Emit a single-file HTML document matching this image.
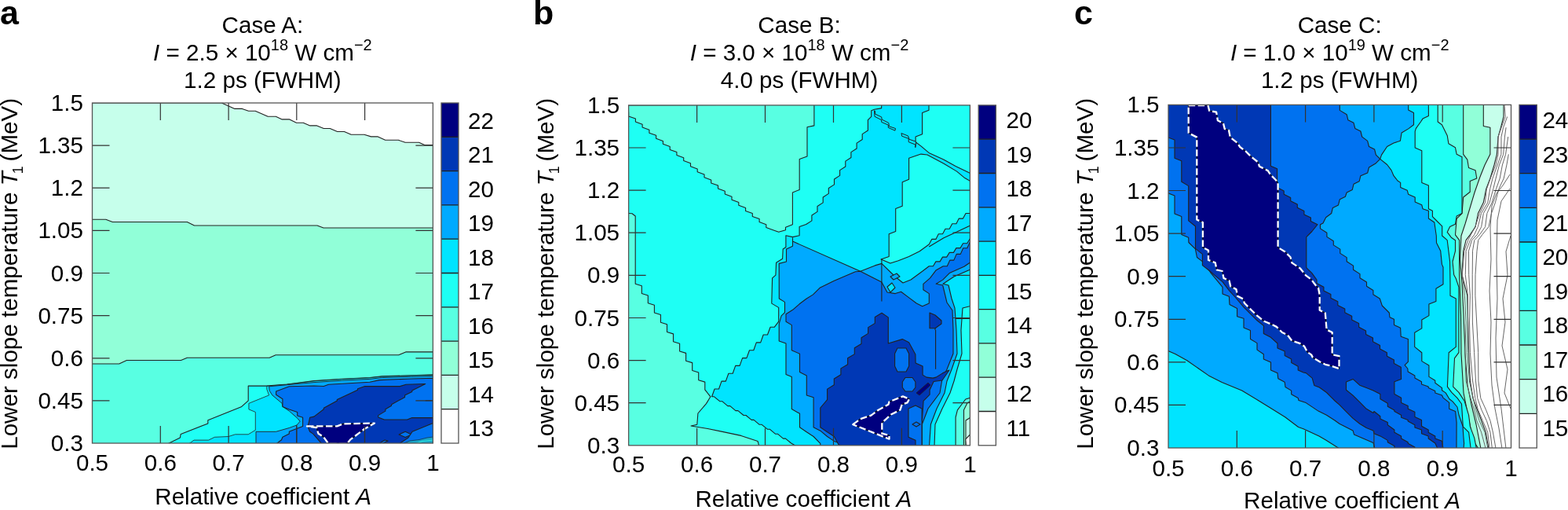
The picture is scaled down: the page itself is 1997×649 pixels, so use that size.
<!DOCTYPE html><html><head><meta charset="utf-8"><style>html,body{margin:0;padding:0;background:#fff;}svg{display:block;}text{font-family:'Liberation Sans', Arial, Helvetica, sans-serif;fill:#000;}</style></head><body>
<svg width="1997" height="649" viewBox="0 0 1997 649">
<text x="0" y="31" style="font-weight:bold;font-size:43px">a</text>
<text x="334.4" y="42.4" text-anchor="middle" style="font-size:29.6px">Case A:</text>
<text x="334.4" y="77.3" text-anchor="middle" style="font-size:29.6px"><tspan style="font-style:italic">I</tspan> = 2.5 × 10<tspan dy="-13" style="font-size:20px">18</tspan><tspan dy="13"> W cm</tspan><tspan dy="-13" style="font-size:20px">−2</tspan></text>
<text x="334.4" y="112.4" text-anchor="middle" style="font-size:29.6px">1.2 ps (FWHM)</text>
<clipPath id="clipA"><rect x="117.5" y="131" width="433.9" height="433"/></clipPath>
<g clip-path="url(#clipA)">
<rect x="117.5" y="131" width="434" height="433" fill="#fff"/>
<polygon points="117.5,131.0 282.3,131.0 299.0,138.4 308.5,138.4 316.5,141.3 325.2,141.3 341.2,148.2 351.3,148.2 359.3,151.9 368.8,151.9 377.5,156.2 386.2,156.2 394.9,159.9 403.6,159.9 412.3,163.5 420.3,163.5 429.7,167.5 438.5,167.5 447.2,171.2 463.9,171.2 472.6,173.9 481.3,173.9 490.7,178.3 507.4,178.3 516.1,181.3 533.6,181.3 540.8,184.5 552.0,184.5 552.0,565.0 117.0,565.0" fill="#c6ffeb" stroke="#222" stroke-width="1.1" stroke-linejoin="round" />
<polygon points="117.0,279.2 134.8,279.2 143.3,282.5 238.4,282.5 247.5,287.0 404.0,287.0 412.0,290.0 552.0,290.0 552.0,565.0 117.0,565.0" fill="#91ffd8" stroke="#222" stroke-width="1.1" stroke-linejoin="round" />
<polygon points="117.0,463.0 151.7,463.0 161.4,458.5 230.5,458.5 238.4,455.3 343.2,455.3 351.1,451.7 507.7,451.7 516.7,447.9 552.0,447.9 552.0,565.0 117.0,565.0" fill="#58ffe2" stroke="#222" stroke-width="1.1" stroke-linejoin="round" />
<polygon points="213.2,565.0 229.4,557.0 230.2,552.4 264.8,539.0 264.8,534.7 307.2,517.8 316.2,509.8 316.2,491.1 339.1,491.1 365.5,489.0 400.0,484.6 435.5,482.3 470.9,480.5 486.3,478.9 523.3,477.7 552.0,476.9 552.0,565.0" fill="#1efff4" stroke="#222" stroke-width="1.1" stroke-linejoin="round" />
<polygon points="240.2,565.0 247.1,560.1 265.6,560.1 273.3,556.3 291.0,555.5 299.5,552.8 316.2,552.8 325.3,547.3 325.3,524.4 316.9,520.9 316.9,513.3 342.6,502.9 339.8,495.3 339.8,491.4 365.5,489.3 400.0,484.9 435.5,482.6 470.9,480.8 486.3,479.2 523.3,478.0 552.0,477.2 552.0,565.0" fill="#00e4ff" stroke="#222" stroke-width="0.8" stroke-linejoin="round" />
<polygon points="326.0,565.0 326.0,549.3 351.6,549.3 368.3,544.5 378.0,541.0 382.1,536.2 379.3,532.7 368.3,523.0 359.9,517.4 359.2,513.3 346.8,502.9 343.3,497.3 342.6,491.8 400.0,486.6 435.5,484.2 470.9,482.4 486.3,480.6 523.3,479.3 552.0,478.6 552.0,565.0" fill="#00aaff" stroke="#222" stroke-width="0.9" stroke-linejoin="round" />
<polygon points="351.6,565.0 358.5,559.7 359.9,556.3 368.3,552.1 368.3,549.3 375.2,546.6 385.6,542.4 385.6,531.3 378.7,529.0 378.7,524.4 368.3,520.9 359.9,517.4 359.9,507.7 351.6,502.2 351.6,498.0 368.3,491.8 400.0,491.0 412.3,491.5 418.5,489.2 470.9,486.2 483.2,483.6 523.3,482.0 552.0,481.2 552.0,565.0" fill="#0072f0" stroke="#222" stroke-width="1.1" stroke-linejoin="round" />
<polyline points="377.7,541.0 377.7,565.0" fill="none" stroke="#222" stroke-width="1.1" stroke-linejoin="round" />
<polygon points="394.6,531.3 400.0,530.1 412.3,520.8 412.3,519.3 429.3,510.1 429.3,508.5 455.5,496.2 455.5,494.7 464.7,491.6 509.4,491.6 517.1,489.3 541.8,488.5 524.8,497.0 524.8,498.5 515.6,503.1 515.6,505.4 498.6,514.7 498.6,516.2 490.9,520.8 490.9,523.1 481.7,528.6 481.7,530.9 489.4,534.0 518.6,534.0 524.8,531.6 552.0,531.6 552.0,565.0 410.0,565.0 398.8,552.1 394.6,549.3 391.8,542.4 393.2,538.3" fill="#0038b5" stroke="#222" stroke-width="1.1" stroke-linejoin="round" />
<polyline points="541.8,509.8 552.0,509.8" fill="none" stroke="#222" stroke-width="1.1" stroke-linejoin="round" />
<polygon points="508.1,552.9 516.2,549.2 524.3,552.9 516.2,556.6" fill="#0072f0" stroke="#222" stroke-width="1.1" stroke-linejoin="round" />
<polygon points="525.1,549.2 551.4,538.5 552.0,565.0 508.0,565.0 520.0,557.0" fill="#0072f0" stroke="#222" stroke-width="1.1" stroke-linejoin="round" />
<polygon points="512.0,565.0 522.0,561.0 534.0,559.5 544.0,557.0 552.0,556.0 552.0,565.0" fill="#1aa6c8" stroke="#135" stroke-width="0.8" stroke-linejoin="round" />
<polyline points="528.0,565.0 538.0,561.5 552.0,560.0" fill="none" stroke="#2ee8d8" stroke-width="1.2" stroke-linejoin="round" />
<polygon points="482.0,565.0 490.0,560.0 494.0,561.0 486.0,565.0" fill="#0072f0" stroke="#222" stroke-width="1.1" stroke-linejoin="round" />
<polygon points="391.0,542.4 429.3,542.4 437.0,539.3 477.0,538.6 464.7,545.5 446.2,559.4 441.6,565.0 418.5,565.0 412.3,556.3 405.4,551.7 403.1,544.0" fill="#00007f" stroke="#111" stroke-width="1.2" stroke-linejoin="round"/><polygon points="391.0,542.4 429.3,542.4 437.0,539.3 477.0,538.6 464.7,545.5 446.2,559.4 441.6,565.0 418.5,565.0 412.3,556.3 405.4,551.7 403.1,544.0" fill="none" stroke="#fff" stroke-width="2.3" stroke-dasharray="8.5 3.5" stroke-linejoin="round"/>
<polyline points="464.4,545.5 464.4,565.0" fill="none" stroke="#222" stroke-width="1.1" stroke-linejoin="round" />
</g>
<path d="M204.3 131v22M204.3 564v-22M291.1 131v22M291.1 564v-22M377.8 131v22M377.8 564v-22M464.6 131v22M464.6 564v-22M117.5 509.9h22M551.4 509.9h-22M117.5 455.8h22M551.4 455.8h-22M117.5 401.6h22M551.4 401.6h-22M117.5 347.5h22M551.4 347.5h-22M117.5 293.4h22M551.4 293.4h-22M117.5 239.2h22M551.4 239.2h-22M117.5 185.1h22M551.4 185.1h-22" stroke="#333" stroke-width="1.2" fill="none"/>
<rect x="117.5" y="131" width="433.9" height="433" fill="none" stroke="#555" stroke-width="1.3"/>
<text x="106" y="574" text-anchor="end" style="font-size:29.6px">0.3</text>
<text x="106" y="519.9" text-anchor="end" style="font-size:29.6px">0.45</text>
<text x="106" y="465.8" text-anchor="end" style="font-size:29.6px">0.6</text>
<text x="106" y="411.6" text-anchor="end" style="font-size:29.6px">0.75</text>
<text x="106" y="357.5" text-anchor="end" style="font-size:29.6px">0.9</text>
<text x="106" y="303.4" text-anchor="end" style="font-size:29.6px">1.05</text>
<text x="106" y="249.2" text-anchor="end" style="font-size:29.6px">1.2</text>
<text x="106" y="195.1" text-anchor="end" style="font-size:29.6px">1.35</text>
<text x="106" y="141" text-anchor="end" style="font-size:29.6px">1.5</text>
<text x="117.5" y="598.5" text-anchor="middle" style="font-size:29.6px">0.5</text>
<text x="204.3" y="598.5" text-anchor="middle" style="font-size:29.6px">0.6</text>
<text x="291.1" y="598.5" text-anchor="middle" style="font-size:29.6px">0.7</text>
<text x="377.8" y="598.5" text-anchor="middle" style="font-size:29.6px">0.8</text>
<text x="464.6" y="598.5" text-anchor="middle" style="font-size:29.6px">0.9</text>
<text x="551.4" y="598.5" text-anchor="middle" style="font-size:29.6px">1</text>
<text x="335.2" y="641.7" text-anchor="middle" style="font-size:29.6px">Relative coefficient <tspan style="font-style:italic">A</tspan></text>
<text transform="translate(22 571.8) rotate(-90)" x="0" y="0" style="font-size:29.6px">Lower slope temperature <tspan style="font-style:italic">T</tspan><tspan dx="-3" dy="7" style="font-size:18px">1</tspan><tspan dx="-2.5" dy="-7"> (MeV)</tspan></text>
<rect x="562" y="131" width="22" height="43.8" fill="#00007f"/>
<rect x="562" y="174.3" width="22" height="43.8" fill="#0038b5"/>
<rect x="562" y="217.6" width="22" height="43.8" fill="#0072f0"/>
<rect x="562" y="260.9" width="22" height="43.8" fill="#00aaff"/>
<rect x="562" y="304.2" width="22" height="43.8" fill="#00e4ff"/>
<rect x="562" y="347.5" width="22" height="43.8" fill="#1efff4"/>
<rect x="562" y="390.8" width="22" height="43.8" fill="#58ffe2"/>
<rect x="562" y="434.1" width="22" height="43.8" fill="#91ffd8"/>
<rect x="562" y="477.4" width="22" height="43.8" fill="#c6ffeb"/>
<rect x="562" y="520.7" width="22" height="43.8" fill="#ffffff"/>
<path d="M562 174.3h22M562 217.6h22M562 260.9h22M562 304.2h22M562 347.5h22M562 390.8h22M562 434.1h22M562 477.4h22M562 520.7h22" stroke="#222" stroke-width="1.3" fill="none"/>
<rect x="562" y="131" width="22" height="433" fill="none" stroke="#555" stroke-width="1.3"/>
<text x="596.1" y="163.6" style="font-size:29.6px">22</text>
<text x="596.1" y="207.1" style="font-size:29.6px">21</text>
<text x="596.1" y="250.6" style="font-size:29.6px">20</text>
<text x="596.1" y="294.1" style="font-size:29.6px">19</text>
<text x="596.1" y="337.6" style="font-size:29.6px">18</text>
<text x="596.1" y="381.1" style="font-size:29.6px">17</text>
<text x="596.1" y="424.6" style="font-size:29.6px">16</text>
<text x="596.1" y="468.1" style="font-size:29.6px">15</text>
<text x="596.1" y="511.6" style="font-size:29.6px">14</text>
<text x="596.1" y="555.1" style="font-size:29.6px">13</text>
<text x="679" y="31" style="font-weight:bold;font-size:43px">b</text>
<text x="1018" y="42.4" text-anchor="middle" style="font-size:29.6px">Case B:</text>
<text x="1018" y="77.3" text-anchor="middle" style="font-size:29.6px"><tspan style="font-style:italic">I</tspan> = 3.0 × 10<tspan dy="-13" style="font-size:20px">18</tspan><tspan dy="13"> W cm</tspan><tspan dy="-13" style="font-size:20px">−2</tspan></text>
<text x="1018" y="112.4" text-anchor="middle" style="font-size:29.6px">4.0 ps (FWHM)</text>
<clipPath id="clipB"><rect x="800.6" y="133.9" width="434.8" height="432.9"/></clipPath>
<g clip-path="url(#clipB)">
<rect x="800" y="133" width="437" height="435" fill="#1efff4"/>
<polygon points="800.0,133.9 800.6,144.0 800.6,147.9 809.4,151.1 809.4,155.0 818.1,158.2 818.1,162.1 826.9,165.3 826.9,169.2 835.6,172.3 835.6,176.2 844.4,179.4 844.4,183.3 853.2,186.5 853.2,190.4 861.9,193.6 861.9,197.5 870.7,200.7 870.7,204.6 879.5,207.8 879.5,211.7 888.2,214.9 888.2,218.8 897.0,221.9 897.0,225.8 905.7,229.0 905.7,232.9 914.5,236.1 914.5,240.0 923.3,243.2 923.3,247.1 932.0,250.3 932.0,254.2 940.8,257.4 940.8,261.3 949.6,264.5 949.6,268.4 958.3,271.5 958.3,275.4 967.1,278.6 967.1,282.5 975.8,285.7 975.8,289.6 984.6,292.8 991.7,295.3 1000.5,292.8 1000.5,289.2 1009.4,285.7 1009.4,245.0 1018.2,241.4 1018.2,202.4 1028.0,198.9 1028.0,161.7 1036.9,159.9 1036.9,133.0" fill="#58ffe2" stroke="#222" stroke-width="1.1" stroke-linejoin="round" />
<polygon points="799.0,271.5 805.0,271.8 809.2,275.0 809.2,361.3 817.3,363.7 817.3,373.5 825.3,376.0 825.3,385.8 833.4,388.2 833.4,398.0 841.4,400.5 841.4,410.2 849.5,412.7 849.5,422.5 857.5,424.9 857.5,434.7 865.6,437.2 865.6,447.0 873.6,449.4 873.6,459.2 881.7,461.6 881.7,471.4 889.7,473.9 889.7,483.7 897.8,486.1 897.8,495.9 904.9,504.8 899.5,513.6 888.9,526.0 887.8,540.2 880.0,542.0 901.3,545.5 919.0,549.1 943.8,554.4 965.1,561.5 966.9,568.0 799.0,568.0" fill="#58ffe2" stroke="#222" stroke-width="1.1" stroke-linejoin="round" />
<polygon points="1122.7,132.0 1122.7,137.6 1113.5,139.2 1109.7,140.8 1109.7,148.3 1105.4,152.7 1105.4,159.1 1105.4,166.0 1098.2,170.6 1098.2,177.5 1091.1,182.1 1091.1,189.0 1083.9,193.6 1083.9,200.5 1076.8,205.1 1076.8,212.0 1069.6,216.6 1069.6,223.4 1062.5,228.0 1062.5,234.9 1055.3,239.5 1055.3,246.4 1048.2,251.0 1048.2,257.9 1041.0,262.5 1041.0,269.4 1033.9,274.0 1033.9,280.9 1026.7,285.5 1018.1,288.6 1018.1,299.7 1009.5,301.6 1000.9,299.7 1000.9,314.5 997.2,317.0 996.6,329.3 988.6,334.2 987.9,350.2 983.6,353.9 982.8,386.1 991.7,391.4 991.7,409.1 986.4,416.2 981.1,416.2 977.5,426.0 972.2,426.0 968.7,435.9 963.3,435.9 959.8,445.7 954.5,445.7 950.9,455.6 945.6,455.6 942.1,465.4 936.7,465.4 933.2,475.3 927.9,475.3 924.3,485.1 919.0,485.1 915.5,495.0 910.1,495.0 906.6,504.8 909.6,504.8 916.7,510.7 919.7,510.7 926.8,516.6 929.8,516.6 936.9,522.6 939.9,522.6 947.0,528.5 950.0,528.5 957.1,534.4 960.1,534.4 967.2,540.3 970.2,540.3 977.3,546.2 980.3,546.2 987.4,552.2 990.4,552.2 997.5,558.1 1000.5,558.1 1007.6,564.0 1014.7,568.0 1238.0,568.0 1238.0,221.5 1217.0,211.4 1201.7,202.9 1183.0,194.4 1172.9,185.9 1166.1,180.8 1166.1,174.1 1174.6,170.7 1174.6,143.6 1183.0,140.2 1183.0,132.0" fill="#00e4ff" stroke="#222" stroke-width="1.1" stroke-linejoin="round" />
<polygon points="1157.6,201.2 1172.9,196.1 1181.0,197.0 1201.7,208.0 1218.6,218.1 1228.8,226.6 1238.0,231.7 1238.0,271.5 1235.2,271.5 1230.0,271.5 1226.5,278.1 1221.3,278.1 1217.9,284.7 1212.7,284.7 1209.2,291.2 1204.0,291.2 1200.5,297.8 1195.3,297.8 1191.9,304.4 1186.7,304.4 1183.2,311.0 1171.2,319.8 1157.6,326.6 1144.1,331.7 1133.9,335.1 1122.0,330.0 1132.2,326.6 1132.2,297.8 1140.7,294.4 1140.7,265.6 1149.2,262.2 1149.2,231.7 1157.6,228.3" fill="#1efff4" stroke="#222" stroke-width="1.1" stroke-linejoin="round" />
<polyline points="1183.2,314.0 1201.9,302.7 1217.1,295.7 1238.0,286.0" fill="none" stroke="#222" stroke-width="1.1" stroke-linejoin="round" />
<polygon points="1113.5,140.8 1114.0,148.3 1122.7,152.7 1122.7,155.4 1131.3,159.1 1131.3,162.4 1139.9,166.2 1140.5,163.5 1132.4,160.8 1131.8,156.4 1123.2,152.1 1122.7,148.9 1114.6,145.1 1114.6,141.3" fill="#00e4ff" stroke="#222" stroke-width="1.0" stroke-linejoin="round" />
<polygon points="1148.0,169.4 1148.6,173.2 1157.2,176.4 1157.2,180.7 1165.8,184.0 1165.8,187.7 1166.5,183.0 1166.5,180.2 1157.9,177.2 1156.6,173.0 1148.6,169.8" fill="#00e4ff" stroke="#222" stroke-width="1.0" stroke-linejoin="round" />
<polygon points="1226.0,392.0 1238.0,389.0 1238.0,568.0 1190.0,568.0 1191.0,540.0 1200.0,520.0 1210.0,500.0 1215.0,485.0 1219.0,470.0 1225.0,450.0 1224.0,420.0" fill="#1efff4" stroke="#222" stroke-width="1.1" stroke-linejoin="round" />
<polyline points="1214.0,405.5 1236.0,405.5" fill="none" stroke="#222" stroke-width="1.1" stroke-linejoin="round" />
<polygon points="1217.1,568.0 1217.1,531.0 1219.4,521.8 1226.4,512.5 1229.8,508.0 1238.0,505.6 1238.0,568.0" fill="#58ffe2" stroke="#222" stroke-width="1.1" stroke-linejoin="round" />
<polygon points="1227.5,568.0 1227.5,521.8 1232.1,512.5 1238.0,510.0 1238.0,568.0" fill="#91ffd8" stroke="#222" stroke-width="1.1" stroke-linejoin="round" />
<polygon points="1230.0,568.0 1230.0,535.0 1238.0,530.0 1238.0,568.0" fill="#c6ffeb" stroke="#222" stroke-width="1.1" stroke-linejoin="round" />
<polygon points="1230.5,568.0 1229.8,558.8 1235.5,553.0 1238.0,553.0 1238.0,568.0" fill="#ffffff" stroke="#222" stroke-width="1.1" stroke-linejoin="round" />
<polygon points="1009.5,302.8 1009.5,307.1 1095.8,345.3 1114.3,337.9 1122.9,335.4 1140.0,352.0 1150.0,360.0 1160.0,356.0 1175.0,345.0 1183.2,338.7 1188.4,338.7 1191.9,332.9 1197.1,332.9 1200.5,327.1 1205.7,327.1 1209.2,321.4 1214.4,321.4 1217.9,315.6 1223.1,315.6 1226.5,309.8 1231.7,309.8 1235.2,304.0 1238.0,304.0 1238.0,342.0 1215.0,352.0 1201.0,361.2 1208.0,363.0 1212.0,380.0 1216.0,392.0 1218.0,420.0 1219.0,450.0 1212.0,470.0 1206.0,485.0 1203.0,500.0 1193.0,520.0 1185.4,540.0 1183.5,568.0 1044.8,568.0 1044.8,564.3 1036.1,555.5 1027.3,549.7 1018.5,543.8 1018.5,526.3 1008.3,520.4 1008.3,479.5 1001.0,476.5 1001.0,437.0 992.2,434.1 992.2,412.2 995.1,401.9 999.5,397.6 999.5,384.4 992.3,380.0 992.2,335.4 1001.5,333.0 1001.5,317.0 1009.5,313.3" fill="#00aaff" stroke="#222" stroke-width="1.1" stroke-linejoin="round" />
<polygon points="1001.0,400.7 1001.0,399.7 1009.6,394.3 1018.2,386.8 1026.9,380.3 1035.5,374.9 1044.1,366.3 1052.8,362.0 1061.4,357.7 1076.5,351.2 1089.4,345.8 1095.8,345.3 1122.9,358.9 1130.0,372.0 1140.2,373.6 1147.6,371.2 1157.4,378.6 1167.3,386.0 1174.7,389.7 1183.3,386.0 1183.3,373.6 1175.9,368.7 1175.9,361.3 1184.5,353.9 1191.9,344.1 1201.2,338.7 1206.3,338.7 1209.7,331.1 1214.8,331.1 1218.2,323.4 1223.3,323.4 1226.7,315.8 1231.8,315.8 1235.2,308.2 1238.0,308.2 1238.0,332.4 1227.8,339.2 1209.2,347.6 1200.7,356.1 1192.2,361.2 1200.7,363.0 1206.0,385.0 1213.0,395.0 1214.0,420.0 1214.0,450.0 1206.0,470.0 1200.0,482.0 1197.0,500.0 1182.0,520.0 1174.3,540.0 1174.3,568.0 1072.0,568.0 1070.0,564.3 1062.4,561.4 1053.6,555.5 1044.8,548.2 1036.1,543.8 1036.1,505.8 1027.3,502.9 1027.3,478.0 1018.5,473.6 1018.5,450.2 1008.3,445.8 1008.3,413.6 1001.0,409.3" fill="#0072f0" stroke="#222" stroke-width="1.1" stroke-linejoin="round" />
<polyline points="1122.9,329.3 1122.9,383.5" fill="none" stroke="#222" stroke-width="1.1" stroke-linejoin="round" />
<polyline points="1191.6,420.0 1191.6,469.7" fill="none" stroke="#222" stroke-width="1.1" stroke-linejoin="round" />
<polygon points="1134.0,352.0 1142.0,348.0 1146.0,352.0 1138.0,356.0" fill="#00aaff" stroke="#222" stroke-width="1.1" stroke-linejoin="round" />
<polygon points="1130.0,365.0 1136.0,360.0 1140.0,366.0 1134.0,372.0" fill="#00e4ff" stroke="#222" stroke-width="1.1" stroke-linejoin="round" />
<polygon points="1123.0,398.3 1131.3,403.9 1131.3,437.0 1149.3,431.6 1157.6,435.7 1165.9,451.0 1166.1,462.0 1175.1,466.1 1175.1,477.1 1180.1,480.1 1188.1,481.1 1192.1,480.1 1200.2,475.1 1206.2,472.1 1209.0,471.0 1200.0,484.0 1189.1,485.5 1184.1,496.2 1184.1,502.2 1176.1,510.2 1175.1,524.2 1174.1,540.3 1174.1,568.0 1072.0,568.0 1067.8,565.6 1062.4,555.5 1053.6,549.7 1044.8,543.8 1044.8,519.0 1053.6,508.7 1053.6,502.9 1053.6,495.1 1062.3,489.8 1062.3,482.0 1070.9,476.8 1070.9,468.9 1079.6,463.7 1079.6,455.8 1088.3,450.6 1088.3,442.8 1097.0,437.5 1097.0,429.7 1105.6,424.4 1105.7,416.6 1114.3,411.4 1114.3,403.5 1123.0,398.3" fill="#0038b5" stroke="#222" stroke-width="1.1" stroke-linejoin="round" />
<polygon points="1143.0,443.0 1154.0,443.0 1157.6,450.0 1157.6,466.0 1154.0,473.0 1143.0,473.0 1139.6,466.0 1139.6,450.0" fill="#0072f0" stroke="#222" stroke-width="1.1" stroke-linejoin="round" />
<polygon points="1153.0,480.5 1162.0,480.5 1165.9,486.0 1165.9,493.0 1162.0,498.0 1153.0,498.0 1149.3,493.0 1149.3,486.0" fill="#0072f0" stroke="#222" stroke-width="1.1" stroke-linejoin="round" />
<polygon points="1157.0,520.0 1166.0,516.0 1174.1,520.0 1174.1,568.0 1166.0,568.0 1166.0,560.3 1157.0,556.3" fill="#0072f0" stroke="#222" stroke-width="1.1" stroke-linejoin="round" />
<polygon points="1162.0,540.0 1167.0,537.0 1172.0,540.0 1167.0,543.0" fill="#0072f0" stroke="#222" stroke-width="1.1" stroke-linejoin="round" />
<polygon points="1184.0,398.0 1191.0,401.0 1199.0,408.0 1199.0,412.0 1191.0,417.7 1184.0,417.7" fill="#0038b5" stroke="#222" stroke-width="1.1" stroke-linejoin="round" />
<polyline points="1191.0,417.7 1191.0,420.0" fill="none" stroke="#222" stroke-width="1.1" stroke-linejoin="round" />
<polygon points="1167.0,500.0 1182.0,487.0 1185.0,490.0 1171.0,503.0" fill="#00007f" stroke="#222" stroke-width="0.8" stroke-linejoin="round" />
<polygon points="1086.3,540.2 1095.6,533.2 1109.4,528.6 1118.7,521.7 1131.4,514.8 1132.5,511.3 1149.9,504.4 1158.0,507.8 1155.6,512.4 1148.7,514.8 1146.4,521.7 1134.8,527.5 1123.3,537.9 1123.3,551.7 1132.5,554.0 1132.5,558.7" fill="#00007f" stroke="#111" stroke-width="1.2" stroke-linejoin="round"/><polygon points="1086.3,540.2 1095.6,533.2 1109.4,528.6 1118.7,521.7 1131.4,514.8 1132.5,511.3 1149.9,504.4 1158.0,507.8 1155.6,512.4 1148.7,514.8 1146.4,521.7 1134.8,527.5 1123.3,537.9 1123.3,551.7 1132.5,554.0 1132.5,558.7" fill="none" stroke="#fff" stroke-width="2.3" stroke-dasharray="8.5 3.5" stroke-linejoin="round"/>
</g>
<path d="M887.6 133.9v22M887.6 566.8v-22M974.5 133.9v22M974.5 566.8v-22M1061.5 133.9v22M1061.5 566.8v-22M1148.4 133.9v22M1148.4 566.8v-22M800.6 512.7h22M1235.4 512.7h-22M800.6 458.6h22M1235.4 458.6h-22M800.6 404.5h22M1235.4 404.5h-22M800.6 350.3h22M1235.4 350.3h-22M800.6 296.2h22M1235.4 296.2h-22M800.6 242.1h22M1235.4 242.1h-22M800.6 188h22M1235.4 188h-22" stroke="#333" stroke-width="1.2" fill="none"/>
<rect x="800.6" y="133.9" width="434.8" height="432.9" fill="none" stroke="#555" stroke-width="1.3"/>
<text x="789.1" y="576.8" text-anchor="end" style="font-size:29.6px">0.3</text>
<text x="789.1" y="522.7" text-anchor="end" style="font-size:29.6px">0.45</text>
<text x="789.1" y="468.6" text-anchor="end" style="font-size:29.6px">0.6</text>
<text x="789.1" y="414.5" text-anchor="end" style="font-size:29.6px">0.75</text>
<text x="789.1" y="360.3" text-anchor="end" style="font-size:29.6px">0.9</text>
<text x="789.1" y="306.2" text-anchor="end" style="font-size:29.6px">1.05</text>
<text x="789.1" y="252.1" text-anchor="end" style="font-size:29.6px">1.2</text>
<text x="789.1" y="198" text-anchor="end" style="font-size:29.6px">1.35</text>
<text x="789.1" y="143.9" text-anchor="end" style="font-size:29.6px">1.5</text>
<text x="800.6" y="601.3" text-anchor="middle" style="font-size:29.6px">0.5</text>
<text x="887.6" y="601.3" text-anchor="middle" style="font-size:29.6px">0.6</text>
<text x="974.5" y="601.3" text-anchor="middle" style="font-size:29.6px">0.7</text>
<text x="1061.5" y="601.3" text-anchor="middle" style="font-size:29.6px">0.8</text>
<text x="1148.4" y="601.3" text-anchor="middle" style="font-size:29.6px">0.9</text>
<text x="1235.4" y="601.3" text-anchor="middle" style="font-size:29.6px">1</text>
<text x="1023.4" y="644.5" text-anchor="middle" style="font-size:29.6px">Relative coefficient <tspan style="font-style:italic">A</tspan></text>
<text transform="translate(704.7 571.8) rotate(-90)" x="0" y="0" style="font-size:29.6px">Lower slope temperature <tspan style="font-style:italic">T</tspan><tspan dx="-3" dy="7" style="font-size:18px">1</tspan><tspan dx="-2.5" dy="-7"> (MeV)</tspan></text>
<rect x="1246.2" y="133.9" width="22.2" height="43.8" fill="#00007f"/>
<rect x="1246.2" y="177.2" width="22.2" height="43.8" fill="#0038b5"/>
<rect x="1246.2" y="220.5" width="22.2" height="43.8" fill="#0072f0"/>
<rect x="1246.2" y="263.8" width="22.2" height="43.8" fill="#00aaff"/>
<rect x="1246.2" y="307.1" width="22.2" height="43.8" fill="#00e4ff"/>
<rect x="1246.2" y="350.4" width="22.2" height="43.8" fill="#1efff4"/>
<rect x="1246.2" y="393.6" width="22.2" height="43.8" fill="#58ffe2"/>
<rect x="1246.2" y="436.9" width="22.2" height="43.8" fill="#91ffd8"/>
<rect x="1246.2" y="480.2" width="22.2" height="43.8" fill="#c6ffeb"/>
<rect x="1246.2" y="523.5" width="22.2" height="43.8" fill="#ffffff"/>
<path d="M1246.2 177.2h22.2M1246.2 220.5h22.2M1246.2 263.8h22.2M1246.2 307.1h22.2M1246.2 350.4h22.2M1246.2 393.6h22.2M1246.2 436.9h22.2M1246.2 480.2h22.2M1246.2 523.5h22.2" stroke="#222" stroke-width="1.3" fill="none"/>
<rect x="1246.2" y="133.9" width="22.2" height="432.9" fill="none" stroke="#555" stroke-width="1.3"/>
<text x="1281.6" y="163.2" style="font-size:29.6px">20</text>
<text x="1281.6" y="206.7" style="font-size:29.6px">19</text>
<text x="1281.6" y="250.2" style="font-size:29.6px">18</text>
<text x="1281.6" y="293.7" style="font-size:29.6px">17</text>
<text x="1281.6" y="337.2" style="font-size:29.6px">16</text>
<text x="1281.6" y="380.7" style="font-size:29.6px">15</text>
<text x="1281.6" y="424.2" style="font-size:29.6px">14</text>
<text x="1281.6" y="467.7" style="font-size:29.6px">13</text>
<text x="1281.6" y="511.2" style="font-size:29.6px">12</text>
<text x="1281.6" y="554.7" style="font-size:29.6px">11</text>
<text x="1368" y="31" style="font-weight:bold;font-size:43px">c</text>
<text x="1706.2" y="42.4" text-anchor="middle" style="font-size:29.6px">Case C:</text>
<text x="1706.2" y="77.3" text-anchor="middle" style="font-size:29.6px"><tspan style="font-style:italic">I</tspan> = 1.0 × 10<tspan dy="-13" style="font-size:20px">19</tspan><tspan dy="13"> W cm</tspan><tspan dy="-13" style="font-size:20px">−2</tspan></text>
<text x="1706.2" y="112.4" text-anchor="middle" style="font-size:29.6px">1.2 ps (FWHM)</text>
<clipPath id="clipC"><rect x="1488" y="133.4" width="436.5" height="436.6"/></clipPath>
<g clip-path="url(#clipC)">
<rect x="1487" y="132" width="439" height="440" fill="#fff"/>
<polygon points="1915.0,132.0 1915.0,148.5 1911.5,162.2 1908.1,174.1 1906.4,196.3 1903.0,210.0 1897.9,227.0 1892.7,240.7 1889.3,257.8 1882.5,271.5 1879.1,288.6 1872.2,298.8 1867.1,305.7 1863.7,319.3 1862.0,349.7 1868.8,376.2 1870.6,448.7 1872.4,484.9 1876.0,506.7 1881.4,521.2 1886.9,535.7 1892.3,550.1 1895.9,571.0 1487.0,571.0 1487.0,132.0" fill="#c6ffeb" stroke="#222" stroke-width="1.1" stroke-linejoin="round" />
<polygon points="1889.3,132.0 1889.3,160.5 1897.9,162.2 1897.9,196.3 1891.0,210.0 1885.0,225.0 1878.0,245.0 1872.0,265.0 1866.0,285.0 1861.0,300.0 1859.5,330.0 1862.0,360.0 1864.0,400.0 1866.0,450.0 1869.0,490.0 1874.0,515.0 1880.0,540.0 1886.0,571.0 1487.0,571.0 1487.0,132.0" fill="#91ffd8" stroke="#222" stroke-width="1.1" stroke-linejoin="round" />
<polygon points="1863.7,132.0 1863.7,196.3 1868.8,203.2 1870.5,213.4 1879.1,216.8 1880.8,227.0 1872.2,230.5 1872.2,244.2 1863.7,251.0 1862.0,271.5 1855.2,278.3 1853.5,298.8 1858.6,305.7 1858.6,349.7 1860.5,400.0 1861.0,450.0 1864.0,500.0 1870.0,530.0 1876.0,560.0 1883.0,571.0 1487.0,571.0 1487.0,132.0" fill="#58ffe2" stroke="#222" stroke-width="1.1" stroke-linejoin="round" />
<polygon points="1831.2,132.0 1831.2,155.0 1836.4,158.7 1843.2,172.4 1844.9,182.7 1853.5,187.8 1855.2,196.3 1862.0,199.7 1862.0,271.5 1855.2,274.9 1853.5,285.2 1846.6,288.6 1843.2,295.4 1848.3,302.2 1853.5,305.7 1853.5,319.3 1850.0,333.0 1851.7,349.7 1854.3,354.5 1857.9,365.4 1857.9,448.7 1852.5,455.9 1850.7,492.2 1857.9,499.4 1865.1,510.3 1870.6,528.4 1872.4,542.9 1877.8,557.4 1880.4,571.0 1487.0,571.0 1487.0,132.0" fill="#1efff4" stroke="#222" stroke-width="1.1" stroke-linejoin="round" />
<polygon points="1819.3,132.0 1819.4,147.4 1812.0,151.1 1809.6,154.8 1803.4,163.4 1802.2,167.1 1802.2,188.1 1810.8,191.8 1810.8,232.4 1819.4,236.1 1819.4,265.7 1824.4,268.2 1824.4,275.6 1829.3,280.5 1836.7,287.9 1836.7,300.0 1843.2,305.7 1844.9,319.3 1846.6,333.0 1847.0,361.7 1847.0,376.2 1854.3,379.9 1854.3,441.4 1845.2,448.7 1843.4,492.2 1848.8,499.4 1856.1,506.7 1861.5,514.0 1863.3,542.9 1870.6,550.1 1873.2,571.0 1487.0,571.0 1487.0,132.0" fill="#00e4ff" stroke="#222" stroke-width="1.1" stroke-linejoin="round" />
<polyline points="1916.0,133.0 1917.2,148.5 1912.2,162.2 1907.9,174.1 1908.1,196.3 1905.0,210.0 1898.2,227.0 1893.3,240.7 1891.5,257.8 1884.5,271.5 1878.8,288.6 1873.3,298.8 1869.7,305.7 1864.9,319.3 1862.3,349.7 1865.4,376.2 1867.1,410.0 1865.8,448.7 1867.1,484.9 1872.9,506.7 1877.6,521.2 1880.9,535.7 1886.6,550.1 1892.2,571.0" fill="none" stroke="#666" stroke-width="1.0" stroke-linejoin="round" />
<polyline points="1919.7,148.5 1914.6,162.2 1912.0,174.1 1911.9,196.3 1907.1,210.0 1901.0,227.0 1897.6,240.7 1894.8,257.8 1886.5,271.5 1882.3,288.6 1877.6,298.8 1872.4,305.7 1867.1,319.3 1866.3,349.7 1869.4,376.2 1869.3,410.0 1868.5,448.7 1871.4,484.9 1876.3,506.7 1879.7,521.2 1884.2,535.7 1891.0,550.1 1895.0,571.0" fill="none" stroke="#666" stroke-width="1.0" stroke-linejoin="round" />
<polyline points="1918.1,162.2 1916.4,174.1 1914.7,196.3 1909.4,210.0 1905.1,227.0 1901.7,240.7 1897.1,257.8 1889.3,271.5 1886.7,288.6 1881.2,298.8 1874.5,305.7 1870.5,319.3 1870.7,349.7 1872.3,376.2 1871.5,410.0 1872.4,448.7 1875.6,484.9 1878.8,506.7 1882.3,521.2 1888.5,535.7 1894.7,550.1 1897.2,571.0" fill="none" stroke="#666" stroke-width="1.0" stroke-linejoin="round" />
<polyline points="1920.7,174.1 1917.6,196.3 1913.4,210.0 1910.2,227.0 1905.4,240.7 1900.1,257.8 1893.9,271.5 1891.6,288.6 1884.3,298.8 1877.8,305.7 1875.5,319.3 1875.2,349.7 1875.2,376.2 1875.4,410.0 1877.6,448.7 1879.5,484.9 1881.7,506.7 1886.7,521.2 1893.5,535.7 1898.0,550.1 1900.4,571.0" fill="none" stroke="#666" stroke-width="1.0" stroke-linejoin="round" />
<polyline points="1921.3,196.3 1918.9,210.0 1915.2,227.0 1908.8,240.7 1904.4,257.8 1899.5,271.5 1896.0,288.6 1887.7,298.8 1882.7,305.7 1881.0,319.3 1879.0,349.7 1878.9,376.2 1880.7,410.0 1882.7,448.7 1882.9,484.9 1885.8,506.7 1892.4,521.2 1898.1,535.7 1901.4,550.1 1905.1,571.0" fill="none" stroke="#666" stroke-width="1.0" stroke-linejoin="round" />
<polyline points="1923.0,222.0 1914.0,236.0 1906.0,246.0 1900.0,262.0 1898.0,290.0 1899.0,330.0 1897.0,370.0 1899.0,410.0 1898.0,450.0 1900.0,490.0 1904.0,520.0 1909.0,545.0 1913.0,571.0" fill="none" stroke="#666" stroke-width="1.0" stroke-linejoin="round" />
<polyline points="1923.0,240.0 1912.0,256.0 1907.0,280.0 1906.0,330.0 1907.0,380.0 1905.0,430.0 1906.0,480.0 1912.0,520.0 1918.0,571.0" fill="none" stroke="#666" stroke-width="1.0" stroke-linejoin="round" />
<polyline points="1924.0,300.0 1918.0,320.0 1920.0,350.0 1914.0,380.0 1917.0,410.0 1913.0,440.0 1920.0,470.0 1916.0,500.0 1924.0,520.0" fill="none" stroke="#666" stroke-width="1.0" stroke-linejoin="round" />
<polygon points="1487.0,132.0 1793.7,132.0 1793.7,140.0 1800.5,143.4 1800.5,158.7 1793.7,163.9 1785.1,169.0 1783.4,179.2 1775.0,182.0 1766.6,186.5 1759.5,197.1 1757.7,202.4 1766.6,209.5 1772.0,216.6 1775.0,223.7 1780.0,230.0 1783.7,232.4 1783.7,238.6 1792.3,242.3 1793.6,247.2 1802.2,250.9 1802.2,257.1 1810.8,260.8 1812.0,265.7 1819.4,268.2 1819.4,278.0 1826.8,283.0 1829.3,300.0 1829.5,309.1 1834.7,319.3 1836.4,336.4 1838.0,340.0 1838.0,361.7 1828.9,367.2 1828.9,383.5 1819.9,387.1 1819.9,401.6 1810.8,407.0 1810.8,417.9 1801.7,423.3 1801.7,441.4 1810.8,448.7 1810.8,459.6 1819.9,465.0 1819.9,479.4 1827.8,484.2 1827.8,487.3 1836.5,493.6 1836.5,496.7 1841.2,499.9 1845.9,507.7 1850.0,510.9 1856.0,518.0 1858.0,528.0 1863.0,542.3 1863.8,554.8 1864.6,564.3 1864.0,571.0 1706.0,571.0 1688.6,560.0 1680.0,555.0 1660.0,545.7 1653.6,543.5 1636.7,530.8 1619.8,520.2 1602.8,509.7 1581.7,497.0 1556.2,486.4 1539.3,477.9 1511.8,458.8 1496.9,450.4 1487.0,446.1" fill="#00aaff" stroke="#222" stroke-width="1.1" stroke-linejoin="round" />
<polygon points="1487.0,132.0 1706.3,132.0 1706.3,140.4 1715.2,145.7 1716.9,152.8 1724.0,156.3 1725.8,163.4 1732.9,167.0 1734.7,174.1 1741.7,179.4 1743.5,186.5 1750.6,190.0 1752.4,197.1 1757.7,202.4 1752.4,207.7 1743.5,213.0 1741.7,220.1 1732.9,223.7 1731.1,230.8 1724.0,234.3 1722.3,241.4 1715.2,245.0 1713.4,250.3 1706.3,253.8 1704.5,260.9 1697.4,264.4 1695.7,271.5 1688.6,276.8 1685.0,283.9 1681.5,285.7 1681.5,290.9 1689.9,296.2 1689.9,301.4 1698.3,306.7 1698.3,311.9 1706.8,317.1 1706.8,322.4 1715.2,327.6 1715.2,332.8 1723.6,338.1 1723.6,343.3 1732.0,348.6 1732.0,353.8 1740.5,359.0 1740.5,364.3 1748.9,369.5 1748.9,374.8 1757.3,380.0 1760.3,389.0 1769.3,398.0 1770.0,403.7 1775.5,406.2 1775.5,413.6 1783.6,417.2 1784.2,428.3 1793.4,431.4 1793.4,460.4 1789.1,464.7 1792.8,469.0 1793.2,473.1 1801.9,477.9 1801.9,481.0 1810.5,485.7 1810.5,488.9 1819.2,492.0 1819.2,493.6 1827.8,497.5 1827.8,499.9 1836.5,503.0 1837.9,506.1 1845.7,512.4 1845.7,520.3 1853.6,523.4 1855.1,537.6 1855.0,571.0 1751.0,571.0 1749.0,563.4 1724.6,553.1 1723.1,547.9 1705.9,539.3 1700.0,535.0 1689.5,528.3 1679.0,523.1 1671.2,517.9 1663.3,512.6 1654.0,509.5 1653.2,506.4 1644.7,501.8 1644.7,497.1 1637.0,492.5 1636.2,486.3 1627.8,481.7 1627.0,474.8 1618.5,470.9 1618.5,460.9 1609.3,457.0 1609.3,450.8 1601.0,445.1 1601.0,436.6 1592.5,431.5 1592.5,420.5 1584.0,417.1 1584.0,405.3 1575.6,402.7 1575.6,392.5 1566.0,387.5 1565.4,377.3 1557.0,373.9 1557.0,365.4 1541.7,346.8 1532.9,333.9 1524.5,327.5 1522.4,316.9 1513.9,308.5 1513.7,302.2 1504.8,298.6 1504.8,275.6 1496.0,272.1 1496.0,249.0 1487.0,245.5" fill="#0072f0" stroke="#222" stroke-width="1.1" stroke-linejoin="round" />
<polygon points="1487.0,132.0 1618.4,132.0 1618.4,211.3 1626.6,214.8 1626.6,234.3 1626.6,238.6 1635.2,242.9 1635.2,247.2 1643.7,251.4 1643.7,255.7 1652.3,260.0 1652.3,264.3 1660.9,268.6 1660.9,272.9 1669.4,277.1 1669.4,281.4 1678.0,285.7 1678.0,285.7 1670.9,294.5 1663.8,301.6 1663.8,340.6 1670.9,347.7 1677.0,356.0 1677.0,360.6 1685.9,365.3 1685.9,369.9 1694.9,374.5 1694.9,379.2 1703.8,383.8 1703.8,388.4 1712.8,393.1 1712.8,397.7 1721.7,402.3 1721.7,407.0 1730.6,411.6 1730.7,416.2 1739.6,420.9 1739.6,425.5 1748.5,430.1 1748.5,434.8 1757.5,439.4 1757.5,444.0 1766.4,448.7 1766.4,453.3 1775.4,457.9 1775.4,462.6 1784.3,467.2 1784.6,482.6 1775.9,485.7 1775.9,501.4 1784.6,506.2 1784.6,512.5 1793.2,516.4 1793.2,520.3 1801.9,524.2 1801.9,530.5 1810.5,534.5 1810.5,542.3 1819.2,547.0 1819.2,550.2 1827.8,554.9 1827.8,558.0 1836.5,561.2 1838.0,571.0 1831.0,571.0 1827.8,564.0 1819.2,558.0 1819.2,554.9 1810.5,551.8 1810.5,547.0 1801.9,543.9 1801.9,540.8 1793.2,536.0 1793.2,534.5 1784.6,531.3 1784.6,528.2 1775.9,523.5 1775.9,521.9 1767.3,517.2 1767.3,513.2 1757.9,507.7 1757.9,501.4 1749.0,497.1 1740.3,493.6 1731.7,490.2 1723.1,482.4 1714.5,485.9 1714.5,496.2 1723.1,503.1 1731.7,511.7 1740.3,520.3 1749.0,525.5 1750.0,523.5 1757.9,529.7 1757.9,532.9 1767.3,537.6 1767.3,540.8 1775.9,547.0 1775.9,550.2 1784.6,554.9 1784.6,558.0 1793.2,562.8 1793.2,564.3 1801.9,569.0 1802.0,571.0 1776.0,571.0 1775.9,567.5 1767.3,562.8 1767.3,560.4 1757.9,554.9 1750.0,551.8 1749.0,547.9 1740.3,544.5 1731.7,539.3 1723.1,532.4 1714.5,523.8 1705.9,515.2 1700.0,510.0 1694.8,504.8 1689.5,499.5 1680.4,493.0 1673.8,490.4 1671.2,481.2 1663.3,474.6 1660.0,474.0 1653.2,470.9 1653.2,466.3 1644.7,461.6 1644.7,457.0 1636.2,452.4 1636.2,447.0 1627.0,443.1 1627.0,437.0 1618.5,429.3 1609.3,424.6 1609.3,420.0 1609.5,414.6 1601.0,407.8 1592.5,399.3 1584.0,390.8 1573.9,379.0 1565.4,369.7 1557.0,358.6 1546.8,350.2 1540.0,344.2 1531.4,337.6 1531.4,323.4 1522.5,316.4 1522.5,288.0 1513.7,280.9 1513.7,236.6 1504.8,231.3 1504.8,204.7 1496.0,201.2 1496.0,178.0 1487.0,174.6" fill="#0038b5" stroke="#222" stroke-width="1.1" stroke-linejoin="round" />
<polygon points="1513.7,134.0 1538.5,134.0 1540.2,141.0 1549.1,142.7 1550.9,153.3 1558.0,156.9 1559.7,164.0 1565.0,165.8 1566.8,174.6 1575.7,181.7 1579.2,187.0 1586.3,192.3 1593.4,199.4 1602.3,206.5 1604.0,211.8 1614.7,217.1 1618.2,222.4 1625.3,229.5 1627.6,233.1 1627.6,314.9 1636.4,320.2 1643.5,327.3 1645.3,334.4 1655.9,341.5 1663.0,350.4 1670.1,355.7 1675.4,362.8 1679.0,366.3 1680.7,375.2 1680.7,394.7 1687.8,398.2 1689.6,419.5 1696.7,423.0 1696.7,451.4 1705.5,453.1 1705.5,469.1 1694.9,465.5 1687.8,463.8 1680.7,460.2 1671.9,454.9 1670.1,451.4 1664.8,447.8 1661.2,440.7 1655.9,437.2 1645.3,433.6 1640.0,426.5 1632.9,423.0 1625.8,415.9 1618.7,412.4 1609.9,408.8 1601.0,401.7 1593.9,394.7 1585.0,385.8 1583.3,380.5 1576.2,376.9 1574.4,368.1 1567.3,364.5 1565.6,357.4 1558.5,353.9 1556.7,345.0 1549.6,343.3 1547.8,334.4 1539.0,330.9 1539.0,318.5 1531.9,314.9 1531.9,283.0 1524.3,279.5 1524.3,174.6 1513.7,169.3" fill="#00007f" stroke="#111" stroke-width="1.2" stroke-linejoin="round"/><polygon points="1513.7,134.0 1538.5,134.0 1540.2,141.0 1549.1,142.7 1550.9,153.3 1558.0,156.9 1559.7,164.0 1565.0,165.8 1566.8,174.6 1575.7,181.7 1579.2,187.0 1586.3,192.3 1593.4,199.4 1602.3,206.5 1604.0,211.8 1614.7,217.1 1618.2,222.4 1625.3,229.5 1627.6,233.1 1627.6,314.9 1636.4,320.2 1643.5,327.3 1645.3,334.4 1655.9,341.5 1663.0,350.4 1670.1,355.7 1675.4,362.8 1679.0,366.3 1680.7,375.2 1680.7,394.7 1687.8,398.2 1689.6,419.5 1696.7,423.0 1696.7,451.4 1705.5,453.1 1705.5,469.1 1694.9,465.5 1687.8,463.8 1680.7,460.2 1671.9,454.9 1670.1,451.4 1664.8,447.8 1661.2,440.7 1655.9,437.2 1645.3,433.6 1640.0,426.5 1632.9,423.0 1625.8,415.9 1618.7,412.4 1609.9,408.8 1601.0,401.7 1593.9,394.7 1585.0,385.8 1583.3,380.5 1576.2,376.9 1574.4,368.1 1567.3,364.5 1565.6,357.4 1558.5,353.9 1556.7,345.0 1549.6,343.3 1547.8,334.4 1539.0,330.9 1539.0,318.5 1531.9,314.9 1531.9,283.0 1524.3,279.5 1524.3,174.6 1513.7,169.3" fill="none" stroke="#fff" stroke-width="2.3" stroke-dasharray="8.5 3.5" stroke-linejoin="round"/>
</g>
<path d="M1575.3 133.4v22M1575.3 570v-22M1662.6 133.4v22M1662.6 570v-22M1749.9 133.4v22M1749.9 570v-22M1837.2 133.4v22M1837.2 570v-22M1488 515.4h22M1924.5 515.4h-22M1488 460.9h22M1924.5 460.9h-22M1488 406.3h22M1924.5 406.3h-22M1488 351.7h22M1924.5 351.7h-22M1488 297.1h22M1924.5 297.1h-22M1488 242.5h22M1924.5 242.5h-22M1488 188h22M1924.5 188h-22" stroke="#333" stroke-width="1.2" fill="none"/>
<rect x="1488" y="133.4" width="436.5" height="436.6" fill="none" stroke="#555" stroke-width="1.3"/>
<text x="1476.5" y="580" text-anchor="end" style="font-size:29.6px">0.3</text>
<text x="1476.5" y="525.4" text-anchor="end" style="font-size:29.6px">0.45</text>
<text x="1476.5" y="470.9" text-anchor="end" style="font-size:29.6px">0.6</text>
<text x="1476.5" y="416.3" text-anchor="end" style="font-size:29.6px">0.75</text>
<text x="1476.5" y="361.7" text-anchor="end" style="font-size:29.6px">0.9</text>
<text x="1476.5" y="307.1" text-anchor="end" style="font-size:29.6px">1.05</text>
<text x="1476.5" y="252.5" text-anchor="end" style="font-size:29.6px">1.2</text>
<text x="1476.5" y="198" text-anchor="end" style="font-size:29.6px">1.35</text>
<text x="1476.5" y="143.4" text-anchor="end" style="font-size:29.6px">1.5</text>
<text x="1488" y="605.6" text-anchor="middle" style="font-size:29.6px">0.5</text>
<text x="1575.3" y="605.6" text-anchor="middle" style="font-size:29.6px">0.6</text>
<text x="1662.6" y="605.6" text-anchor="middle" style="font-size:29.6px">0.7</text>
<text x="1749.9" y="605.6" text-anchor="middle" style="font-size:29.6px">0.8</text>
<text x="1837.2" y="605.6" text-anchor="middle" style="font-size:29.6px">0.9</text>
<text x="1924.5" y="605.6" text-anchor="middle" style="font-size:29.6px">1</text>
<text x="1722" y="647.4" text-anchor="middle" style="font-size:29.6px">Relative coefficient <tspan style="font-style:italic">A</tspan></text>
<text transform="translate(1392.3 571.8) rotate(-90)" x="0" y="0" style="font-size:29.6px">Lower slope temperature <tspan style="font-style:italic">T</tspan><tspan dx="-3" dy="7" style="font-size:18px">1</tspan><tspan dx="-2.5" dy="-7"> (MeV)</tspan></text>
<rect x="1935" y="133.4" width="22.3" height="44.2" fill="#00007f"/>
<rect x="1935" y="177.1" width="22.3" height="44.2" fill="#0038b5"/>
<rect x="1935" y="220.7" width="22.3" height="44.2" fill="#0072f0"/>
<rect x="1935" y="264.4" width="22.3" height="44.2" fill="#00aaff"/>
<rect x="1935" y="308" width="22.3" height="44.2" fill="#00e4ff"/>
<rect x="1935" y="351.7" width="22.3" height="44.2" fill="#1efff4"/>
<rect x="1935" y="395.4" width="22.3" height="44.2" fill="#58ffe2"/>
<rect x="1935" y="439" width="22.3" height="44.2" fill="#91ffd8"/>
<rect x="1935" y="482.7" width="22.3" height="44.2" fill="#c6ffeb"/>
<rect x="1935" y="526.3" width="22.3" height="44.2" fill="#ffffff"/>
<path d="M1935 177.1h22.3M1935 220.7h22.3M1935 264.4h22.3M1935 308h22.3M1935 351.7h22.3M1935 395.4h22.3M1935 439h22.3M1935 482.7h22.3M1935 526.3h22.3" stroke="#222" stroke-width="1.3" fill="none"/>
<rect x="1935" y="133.4" width="22.3" height="436.6" fill="none" stroke="#555" stroke-width="1.3"/>
<text x="1964.4" y="163.2" style="font-size:29.6px">24</text>
<text x="1964.4" y="206.7" style="font-size:29.6px">23</text>
<text x="1964.4" y="250.2" style="font-size:29.6px">22</text>
<text x="1964.4" y="293.7" style="font-size:29.6px">21</text>
<text x="1964.4" y="337.2" style="font-size:29.6px">20</text>
<text x="1964.4" y="380.7" style="font-size:29.6px">19</text>
<text x="1964.4" y="424.2" style="font-size:29.6px">18</text>
<text x="1964.4" y="467.7" style="font-size:29.6px">17</text>
<text x="1964.4" y="511.2" style="font-size:29.6px">16</text>
<text x="1964.4" y="554.7" style="font-size:29.6px">15</text>
</svg></body></html>
